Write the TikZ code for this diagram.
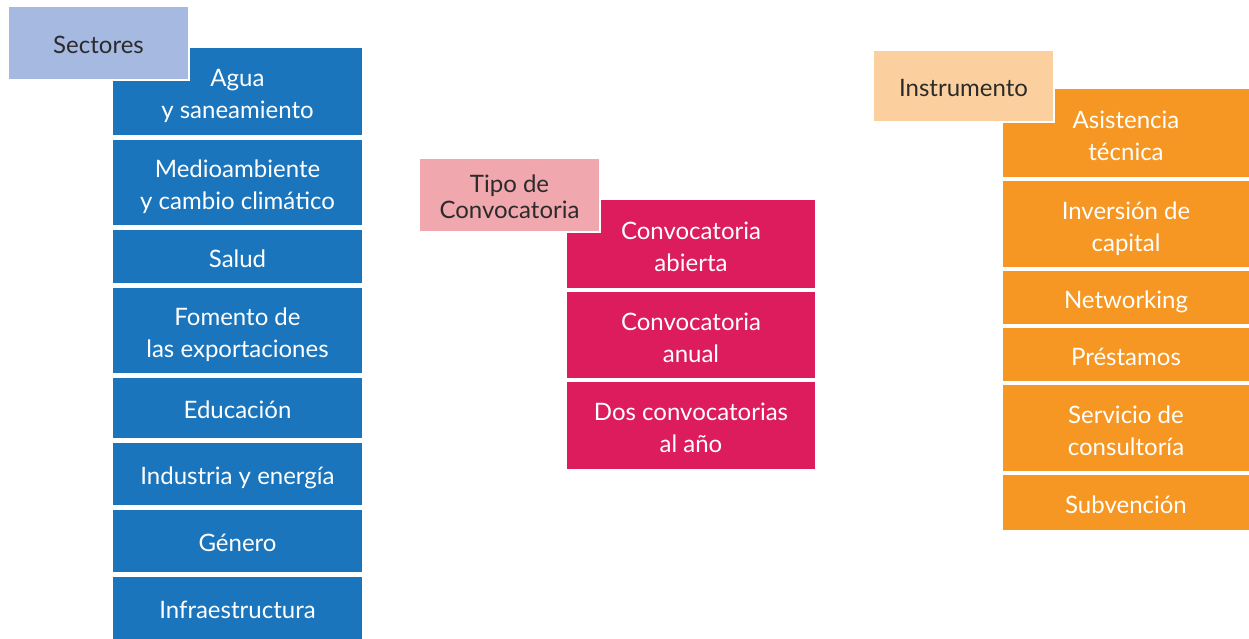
\documentclass[tikz,border=0pt]{standalone}
\usepackage{fontspec}
\setmainfont{Lato}
\usepackage{tikz}
\usetikzlibrary{positioning}
\definecolor{secblue}{RGB}{26,117,188}
\definecolor{secpale}{RGB}{166,185,224}
\definecolor{convpink}{RGB}{220,28,92}
\definecolor{convpale}{RGB}{240,168,174}
\definecolor{instorange}{RGB}{246,151,35}
\definecolor{instpale}{RGB}{252,208,158}
\definecolor{headtext}{RGB}{43,43,43}
\newcommand{\twolines}[2]{\rule{0pt}{13.5pt}#1\\#2\rule[-2.5pt]{0pt}{0pt}}
\tikzset{item node/.style={rectangle,text=white,align=center,inner sep=0pt,outer sep=0pt,font=\fontsize{12}{16}\selectfont},
  one line/.style={text height=10.5pt,text depth=0pt},
  sector/.style={item node,fill=secblue,minimum width=124.5pt},
  convoc/.style={item node,fill=convpink,minimum width=124pt},
  instr/.style={item node,fill=instorange,minimum width=123pt},
  head node/.style={rectangle,draw=white,line width=1pt,text=headtext,align=center,inner sep=0pt,outer sep=0pt,minimum width=90.5pt,minimum height=37pt,font=\fontsize{12}{13}\selectfont},}

\begin{document}
\begin{tikzpicture}
    \useasboundingbox (0,0) rectangle (624.5pt,-319pt);

    % sectores
    \node[sector, minimum height=43.5pt, anchor=north west] (agua) at (56.5pt,-24pt) {\twolines{Agua}{y saneamiento}};
    \node[sector, minimum height=42.5pt] (medio) [below=2.5pt of agua] {\twolines{Medioambiente}{y cambio climático}};
    \node[sector, one line, minimum height=26.5pt] (salud) [below=2.5pt of medio] {Salud};
    \node[sector, minimum height=42.5pt] (fomento) [below=2.5pt of salud] {\twolines{Fomento de}{las exportaciones}};
    \node[sector, one line, minimum height=30pt] (educ) [below=2.5pt of fomento] {Educación};
    \node[sector, one line, minimum height=31pt] (indus) [below=2.5pt of educ] {Industria y energía};
    \node[sector, one line, minimum height=31pt] (genero) [below=2.5pt of indus] {Género};
    \node[sector, one line, minimum height=31pt] (infra) [below=2.5pt of genero] {Infraestructura};
    \node[head node, fill=secpale, text height=10pt, text depth=0pt, anchor=north west] (sectores) at (4pt,-3pt) {Sectores};

    % tipo de convocatoria
    \node[convoc, minimum height=44pt, anchor=north west] (abierta) at (283.5pt,-100pt) {\twolines{Convocatoria}{abierta}};
    \node[convoc, minimum height=43pt] (anual) [below=2pt of abierta] {\twolines{Convocatoria}{anual}};
    \node[convoc, minimum height=43.5pt] (dos) [below=2pt of anual] {\twolines{Dos convocatorias}{al año}};
    \node[head node, fill=convpale, anchor=north west] (tipo) at (209.5pt,-79pt) {\rule{0pt}{10.5pt}Tipo de\\Convocatoria};

    % instrumento
    \node[instr, minimum height=44pt, anchor=north west] (asist) at (501.5pt,-44.5pt) {\twolines{Asistencia}{técnica}};
    \node[instr, minimum height=43pt] (invers) [below=2pt of asist] {\twolines{Inversión de}{capital}};
    \node[instr, one line, minimum height=26.5pt] (network) [below=2pt of invers] {Networking};
    \node[instr, one line, minimum height=26.5pt] (prest) [below=2pt of network] {Préstamos};
    \node[instr, minimum height=43pt] (servicio) [below=2pt of prest] {\twolines{Servicio de}{consultoría}};
    \node[instr, one line, minimum height=27.5pt] (subv) [below=2pt of servicio] {Subvención};
    \node[head node, fill=instpale, text height=10pt, text depth=0pt, minimum height=36pt, anchor=north west] (instrumento) at (436.5pt,-25pt) {Instrumento};
\end{tikzpicture}
\end{document}
